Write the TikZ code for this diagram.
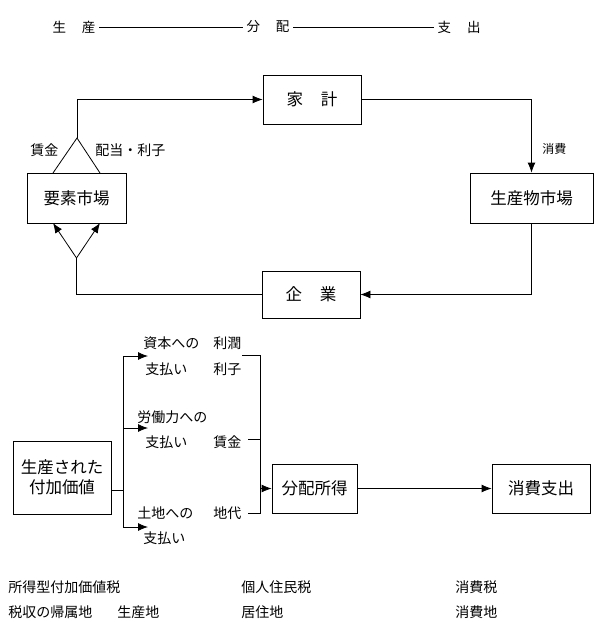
\documentclass[tikz,border=0pt]{standalone}
\usepackage{fontspec}
\setmainfont{Noto Sans CJK JP}
\usepackage{tikz}
\usetikzlibrary{positioning,arrows.meta}

\begin{document}
\begin{tikzpicture}[x=1pt, y=-1pt, line width=0.8pt,
	box/.style={rectangle, draw, inner sep=0pt, minimum height=49pt, font=\fontsize{16.5pt}{20pt}\selectfont},
	lab/.style={inner sep=0pt, anchor=west, font=\fontsize{14pt}{16pt}\selectfont},
	arr/.style={-{Latex[length=10pt, width=8pt]}}]
	\useasboundingbox (0,0) rectangle (600,622);
	% header
	\node[font=\fontsize{13.5pt}{15pt}\selectfont] (hp) at (74,27) {生\hspace{16pt}産};
	\node[font=\fontsize{13.5pt}{15pt}\selectfont] (hd) at (268,27) {分\hspace{16pt}配};
	\node[font=\fontsize{13.5pt}{15pt}\selectfont] (he) at (459,27) {支\hspace{16pt}出};
	\draw (hp) -- (hd);
	\draw (hd) -- (he);
	
	% circular flow
	\node[box, minimum width=98pt] (hh) at (312,99.5) {家\hspace{18pt}計};
	\node[box, minimum width=99pt, minimum height=50pt] (fm) at (76.5,198) {要素市場};
	\node[box, minimum width=123pt, minimum height=50pt] (pm) at (531.5,198) {生産物市場};
	\node[box, minimum width=98pt, minimum height=47pt] (fi) at (311,294.5) {企\hspace{18pt}業};
	\node[lab] (wg) at (30,150) {賃金};
	\node[lab] (dv) at (95,150) {配当・利子};
	\node[lab, font=\fontsize{12pt}{14pt}\selectfont] (cs) at (542,149) {消費};
	
	\coordinate (ta) at (77,138);
	\coordinate (tl) at (53,173);
	\coordinate (tr) at (100,173);
	\coordinate (ba) at (76.5,258);
	\coordinate (bl) at (53,223);
	\coordinate (br) at (100,223);
	
	\draw (tl) -- (ta) -- (tr);
	\draw[arr] (ta) |- (hh);
	\draw[arr] (hh) -| (pm);
	\draw[arr] (pm) |- (fi);
	\draw (fi) -| (ba);
	\draw[arr] (ba) -- (bl);
	\draw[arr] (ba) -- (br);
	
	% distribution of value added
	\node[box, minimum width=98pt, minimum height=73pt, align=center] (va) at (62,477.5) {生産された\\付加価値};
	\node[box, minimum width=85pt] (di) at (314.5,488.5) {分配所得};
	\node[box, minimum width=98pt] (ce) at (541,488.5) {消費支出};
	
	\node[lab] (k1) at (143,343) {資本への};
	\node[lab] (k2) at (145,369) {支払い};
	\node[lab] (r1) at (213,343) {利潤};
	\node[lab] (r2) at (213,369) {利子};
	\node[lab] (l1) at (137,417) {労働力への};
	\node[lab] (l2) at (145,442) {支払い};
	\node[lab] (w1) at (213,442) {賃金};
	\node[lab] (t1) at (137,513) {土地への};
	\node[lab] (t2) at (143,538) {支払い};
	\node[lab] (t3) at (213,513) {地代};
	
	\coordinate (sp) at (123,490);
	\coordinate (s1) at (123,356);
	\coordinate (s2) at (123,428);
	\coordinate (s3) at (123,527);
	\coordinate (e1) at (148,356);
	\coordinate (e2) at (148,428);
	\coordinate (e3) at (148,527);
	\draw (va.east |- sp) -- (sp);
	\draw (s1) -- (s3);
	\draw[arr] (s1) -- (e1);
	\draw[arr] (s2) -- (e2);
	\draw[arr] (s3) -- (e3);
	
	\coordinate (c1) at (242,355);
	\coordinate (c2) at (248,439);
	\coordinate (c3) at (248,513);
	\coordinate (q1) at (260,355);
	\coordinate (q2) at (260,439);
	\coordinate (q3) at (260,513);
	\coordinate (q4) at (260,488.5);
	\draw (c1) -- (q1) -- (q3) -- (c3);
	\draw (c2) -- (q2);
	\draw[arr] (q4) -- (di);
	\draw[arr] (di) -- (ce);
	
	% taxes
	\node[lab] (x1) at (8,587) {所得型付加価値税};
	\node[lab] (x2) at (8,612) {税収の帰属地};
	\node[lab] (x3) at (117,612) {生産地};
	\node[lab] (y1) at (241,587) {個人住民税};
	\node[lab] (y2) at (241,612) {居住地};
	\node[lab] (z1) at (455,587) {消費税};
	\node[lab] (z2) at (455,612) {消費地};
\end{tikzpicture}
\end{document}
